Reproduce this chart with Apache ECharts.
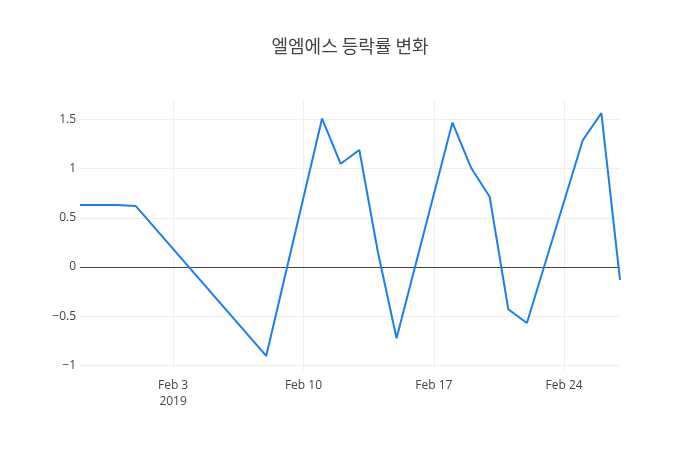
<!DOCTYPE html>
<html>
<head>
<meta charset="utf-8">
<script src="https://cdn.jsdelivr.net/npm/echarts@6/dist/echarts.min.js"></script>
<style>
  html, body { margin: 0; padding: 0; background: #fff; }
  #chart { width: 700px; height: 450px; }
</style>
</head>
<body>
<div id="chart"></div>
<script>
// 날짜 (거래일)
const dates = [
  '2019-01-29', '2019-01-30', '2019-01-31', '2019-02-01', '2019-02-08',
  '2019-02-11', '2019-02-12', '2019-02-13', '2019-02-14', '2019-02-15',
  '2019-02-18', '2019-02-19', '2019-02-20', '2019-02-21', '2019-02-22',
  '2019-02-25', '2019-02-26', '2019-02-27'
];
// 등락률 (%)
const rates = [
  0.63, 0.63, 0.63, 0.62, -0.905,
  1.51, 1.05, 1.19, 0.15, -0.725,
  1.47, 1.01, 0.715, -0.43, -0.57,
  1.29, 1.565, -0.13
];
// 축 눈금
const yTicks = [-1, -0.5, 0, 0.5, 1, 1.5];
const xTicks = ['2019-02-03', '2019-02-10', '2019-02-17', '2019-02-24'];

const chart = echarts.init(document.getElementById('chart'));

const toTime = s => {
  const p = s.split('-').map(Number);
  return new Date(p[0], p[1] - 1, p[2]).getTime();
};
const xTickTimes = xTicks.map(toTime);
const font = "'Open Sans', 'Noto Sans CJK KR', sans-serif";

const option = {
  backgroundColor: '#fff',
  animation: false,
  title: {
    text: '엘엠에스 등락률 변화',
    left: 'center',
    top: 32,
    textStyle: {
      fontFamily: "'Noto Sans CJK KR', 'Open Sans', sans-serif",
      fontSize: 18,
      fontWeight: 'normal',
      color: '#444'
    }
  },
  grid: { left: 80, right: 80, top: 100, bottom: 80, containLabel: false },
  xAxis: {
    type: 'value',
    min: toTime(dates[0]),
    max: toTime(dates[dates.length - 1]),
    axisLine: { show: false },
    axisTick: { show: false, customValues: xTickTimes },
    splitLine: { show: true, lineStyle: { color: '#eee', width: 1 } },
    axisLabel: {
      customValues: xTickTimes,
      margin: 8,
      fontFamily: font,
      fontSize: 12,
      color: '#444',
      lineHeight: 16,
      formatter: function (val) {
        const d = new Date(val);
        let s = 'Feb ' + d.getDate();
        if (d.getDate() === 3) s += '\n2019';
        return s;
      }
    }
  },
  yAxis: {
    type: 'value',
    min: -1.048,
    max: 1.699,
    axisLine: { show: false },
    axisTick: { show: false, customValues: yTicks },
    splitLine: { show: true, lineStyle: { color: '#eee', width: 1 } },
    axisLabel: {
      customValues: yTicks,
      margin: 4,
      fontFamily: font,
      fontSize: 12,
      color: '#444',
      formatter: function (v) {
        return v < 0 ? '\u2212' + Math.abs(v) : String(v);
      }
    }
  },
  series: [{
    type: 'line',
    data: dates.map((d, i) => [toTime(d), rates[i]]),
    showSymbol: false,
    lineStyle: { color: '#1a80e8', width: 2 },
    itemStyle: { color: '#1a80e8' },
    z: 3,
    markLine: {
      silent: true,
      symbol: 'none',
      label: { show: false },
      lineStyle: { color: '#444', width: 1, type: 'solid' },
      data: [{ yAxis: 0 }],
      z: 2
    }
  }]
};

chart.setOption(option);
</script>
</body>
</html>
